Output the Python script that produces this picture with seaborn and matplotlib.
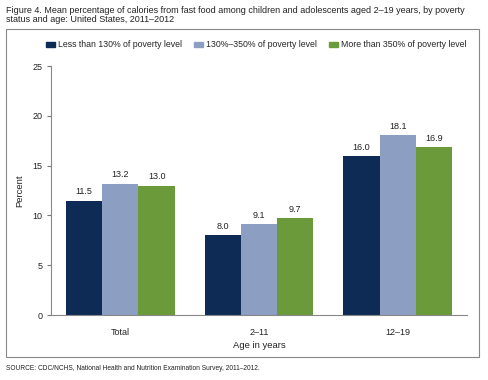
import pandas as pd
import matplotlib
import seaborn as sns

matplotlib.use("Agg")
import matplotlib.pyplot as plt
from matplotlib.patches import Rectangle

ages = ["Total", "2\u201311", "12\u201319"]
groups = [
    "Less than 130% of poverty level",
    "130%\u2013350% of poverty level",
    "More than 350% of poverty level",
]
low_income = [11.5, 8.0, 16.0]
mid_income = [13.2, 9.1, 18.1]
high_income = [13.0, 9.7, 16.9]
colors = ["#0d2b55", "#8c9fc2", "#6a9a3a"]

rows = []
for g, vals in zip(groups, [low_income, mid_income, high_income]):
    for a, v in zip(ages, vals):
        rows.append({"age": a, "group": g, "value": v})
df = pd.DataFrame(rows)

sns.set_theme(style="white")
plt.rcParams["font.family"] = ["Liberation Sans", "DejaVu Sans"]

fig = plt.figure(figsize=(4.88, 3.80), dpi=100)
ax = fig.add_axes([0.1045, 0.171, 0.8525, 0.655])

sns.barplot(df, x="age", y="value", hue="group", order=ages, hue_order=groups,
            palette=colors, width=0.785, gap=0, saturation=1, linewidth=0,
            ax=ax, legend=False)

for c in ax.containers:
    ax.bar_label(c, fmt="%.1f", padding=3, fontsize=6.5, color="#222222")

ax.set_xlim(-0.5, 2.5)
ax.set_ylim(0, 25)
ax.set_yticks([0, 5, 10, 15, 20, 25])
ax.tick_params(axis="y", left=True, length=3, width=0.8, color="#777777",
               labelsize=6.5, pad=3, labelcolor="#222222")
ax.tick_params(axis="x", bottom=False, labelsize=6.5, pad=3, labelcolor="#222222")
ax.set_xlabel("Age in years", fontsize=6.8, color="#222222", labelpad=3)
ax.set_ylabel("Percent", fontsize=6.8, color="#222222", labelpad=6)
for s in ["top", "right"]:
    ax.spines[s].set_visible(False)
for s in ["left", "bottom"]:
    ax.spines[s].set_color("#888888")
    ax.spines[s].set_linewidth(0.8)

# legend
handles = [Rectangle((0, 0), 1, 1, color=c) for c in colors]
fig.legend(handles, groups, loc="center", bbox_to_anchor=(0.525, 0.882), ncol=3,
           frameon=False, fontsize=6.3, handlelength=1.1, handleheight=0.5,
           handletextpad=0.35, columnspacing=1.3)

# outer frame
fig.patches.append(Rectangle((0.0123, 0.0605), 0.969, 0.863, transform=fig.transFigure,
                             fill=False, edgecolor="#888888", linewidth=0.8))

fig.text(0.012, 0.985, "Figure 4. Mean percentage of calories from fast food among children and adolescents aged 2\u201319 years, by poverty\nstatus and age: United States, 2011\u20132012",
         fontsize=6.5, va="top", ha="left", color="#222222", linespacing=1.1)
fig.text(0.012, 0.03, "SOURCE: CDC/NCHS, National Health and Nutrition Examination Survey, 2011\u20132012.",
         fontsize=4.8, va="center", ha="left", color="#222222")

fig.savefig("out.png", dpi=100)
